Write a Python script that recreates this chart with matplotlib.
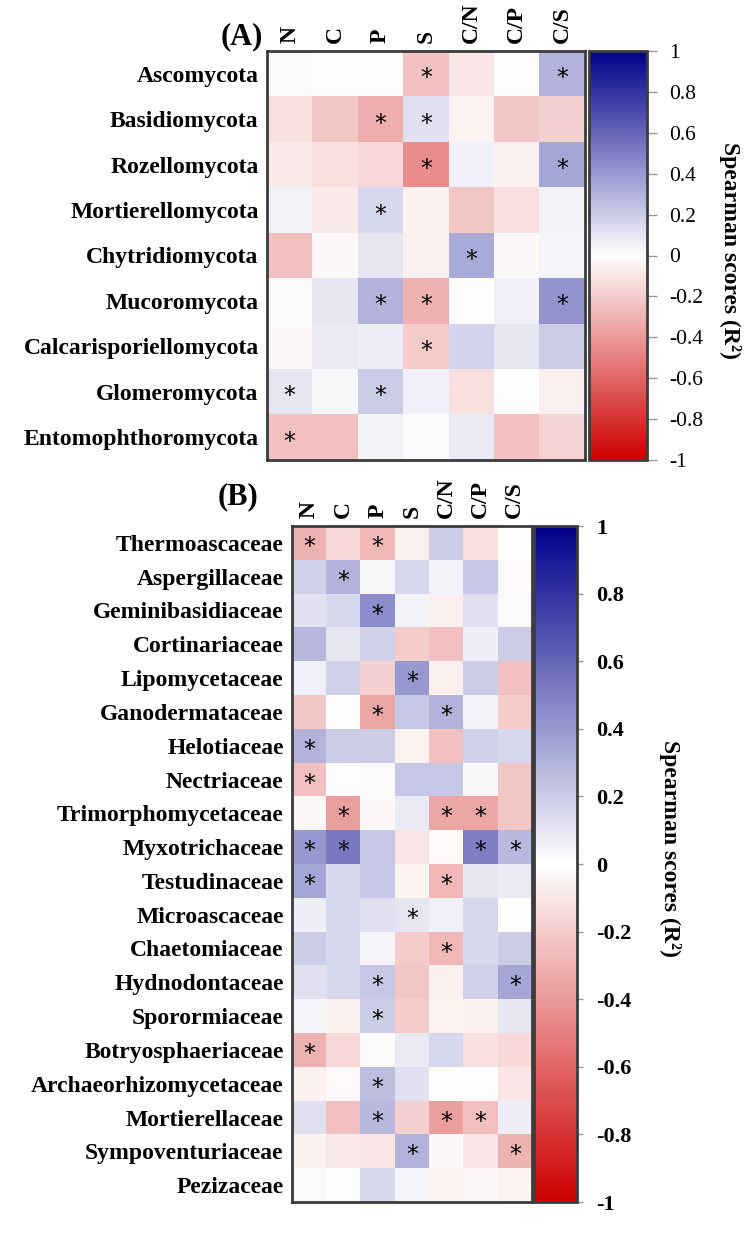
import numpy as np
import matplotlib
matplotlib.use('Agg')
import matplotlib.pyplot as plt
from matplotlib.colors import LinearSegmentedColormap

plt.rcParams['font.family'] = ['Liberation Serif', 'DejaVu Serif']

# soil properties (columns)
props = ['N', 'C', 'P', 'S', 'C/N', 'C/P', 'C/S']

# (A) phyla
phyla = ['Ascomycota', 'Basidiomycota', 'Rozellomycota', 'Mortierellomycota',
         'Chytridiomycota', 'Mucoromycota', 'Calcarisporiellomycota',
         'Glomeromycota', 'Entomophthoromycota']
r_phyla = [
    [0.02, 0.00, 0.00, -0.25, -0.10, 0.00, 0.30],
    [-0.12, -0.22, -0.32, 0.12, -0.05, -0.22, -0.18],
    [-0.08, -0.12, -0.15, -0.45, 0.06, -0.06, 0.35],
    [0.05, -0.08, 0.15, -0.06, -0.22, -0.12, 0.05],
    [-0.25, -0.03, 0.10, -0.06, 0.33, -0.03, 0.04],
    [0.02, 0.10, 0.30, -0.30, 0.00, 0.06, 0.42],
    [-0.03, 0.08, 0.07, -0.20, 0.17, 0.10, 0.20],
    [0.10, 0.03, 0.20, 0.06, -0.12, 0.00, -0.07],
    [-0.25, -0.25, 0.05, 0.02, 0.08, -0.25, -0.17],
]
sig_phyla = [
    [0, 0, 0, 1, 0, 0, 1],
    [0, 0, 1, 1, 0, 0, 0],
    [0, 0, 0, 1, 0, 0, 1],
    [0, 0, 1, 0, 0, 0, 0],
    [0, 0, 0, 0, 1, 0, 0],
    [0, 0, 1, 1, 0, 0, 1],
    [0, 0, 0, 1, 0, 0, 0],
    [1, 0, 1, 0, 0, 0, 0],
    [1, 0, 0, 0, 0, 0, 0],
]

# (B) families
families = ['Thermoascaceae', 'Aspergillaceae', 'Geminibasidiaceae', 'Cortinariaceae',
            'Lipomycetaceae', 'Ganodermataceae', 'Helotiaceae', 'Nectriaceae',
            'Trimorphomycetaceae', 'Myxotrichaceae', 'Testudinaceae', 'Microascaceae',
            'Chaetomiaceae', 'Hydnodontaceae', 'Sporormiaceae', 'Botryosphaeriaceae',
            'Archaeorhizomycetaceae', 'Mortierellaceae', 'Sympoventuriaceae', 'Pezizaceae']
r_families = [
    [-0.30, -0.15, -0.28, -0.07, 0.20, -0.12, 0.00],
    [0.18, 0.30, 0.03, 0.15, 0.05, 0.22, -0.02],
    [0.12, 0.15, 0.45, 0.05, -0.07, 0.12, 0.02],
    [0.28, 0.10, 0.18, -0.20, -0.25, 0.07, 0.20],
    [0.06, 0.18, -0.18, 0.40, -0.07, 0.20, -0.25],
    [-0.22, 0.00, -0.35, 0.22, 0.30, 0.05, -0.20],
    [0.30, 0.20, 0.20, -0.05, -0.25, 0.18, 0.15],
    [-0.25, 0.00, 0.02, 0.22, 0.22, 0.03, -0.22],
    [-0.03, -0.38, -0.03, 0.08, -0.35, -0.35, -0.22],
    [0.40, 0.52, 0.22, -0.10, -0.02, 0.50, 0.28],
    [0.35, 0.15, 0.22, -0.04, -0.28, 0.10, 0.08],
    [0.07, 0.15, 0.12, 0.10, 0.06, 0.15, 0.00],
    [0.20, 0.15, 0.04, -0.20, -0.28, 0.15, 0.20],
    [0.12, 0.15, 0.22, -0.22, -0.06, 0.18, 0.35],
    [0.04, -0.06, 0.20, -0.20, -0.05, -0.06, 0.10],
    [-0.30, -0.15, 0.02, 0.08, 0.15, -0.12, -0.15],
    [-0.06, -0.02, 0.25, 0.12, 0.00, -0.01, -0.10],
    [0.12, -0.25, 0.28, -0.18, -0.38, -0.25, 0.07],
    [-0.06, -0.08, -0.10, 0.30, -0.03, -0.10, -0.30],
    [0.02, 0.00, 0.15, 0.04, -0.04, -0.03, -0.05],
]
sig_families = [
    [1, 0, 1, 0, 0, 0, 0],
    [0, 1, 0, 0, 0, 0, 0],
    [0, 0, 1, 0, 0, 0, 0],
    [0, 0, 0, 0, 0, 0, 0],
    [0, 0, 0, 1, 0, 0, 0],
    [0, 0, 1, 0, 1, 0, 0],
    [1, 0, 0, 0, 0, 0, 0],
    [1, 0, 0, 0, 0, 0, 0],
    [0, 1, 0, 0, 1, 1, 0],
    [1, 1, 0, 0, 0, 1, 1],
    [1, 0, 0, 0, 1, 0, 0],
    [0, 0, 0, 1, 0, 0, 0],
    [0, 0, 0, 0, 1, 0, 0],
    [0, 0, 1, 0, 0, 0, 1],
    [0, 0, 1, 0, 0, 0, 0],
    [1, 0, 0, 0, 0, 0, 0],
    [0, 0, 1, 0, 0, 0, 0],
    [0, 0, 1, 0, 1, 1, 0],
    [0, 0, 0, 1, 0, 0, 1],
    [0, 0, 0, 0, 0, 0, 0],
]

cbar_ticks = [1, 0.8, 0.6, 0.4, 0.2, 0, -0.2, -0.4, -0.6, -0.8, -1]
cbar_labels = ['1', '0.8', '0.6', '0.4', '0.2', '0', '-0.2', '-0.4', '-0.6', '-0.8', '-1']

cmap = LinearSegmentedColormap.from_list('rwb', ['#CD0000', '#FFFFFF', '#00008B'])
edge = '#3c3c3c'

W, H = 750, 1233
fig = plt.figure(figsize=(W / 100, H / 100), dpi=100)


def px_axes(x0, y0, x1, y1):
    return fig.add_axes([x0 / W, 1 - y1 / H, (x1 - x0) / W, (y1 - y0) / H])


def heat_panel(box, cbox, rows, vals, sig, lab_size, tick_bold, tick_len, star_dy):
    ax = px_axes(*box)
    data = np.array(vals)
    im = ax.imshow(data, cmap=cmap, vmin=-1, vmax=1, aspect='auto',
                   extent=(-0.5, len(props) - 0.5, len(rows) - 0.5, -0.5))
    for i in range(len(rows)):
        for j in range(len(props)):
            if sig[i][j]:
                ax.text(j, i + star_dy, '*', ha='center', va='center',
                        fontsize=17, family='DejaVu Sans', color='black')
    ax.set_xticks(range(len(props)))
    ax.set_xticklabels(props, rotation=90, fontsize=lab_size, fontweight='bold')
    ax.xaxis.tick_top()
    ax.set_yticks(range(len(rows)))
    ax.set_yticklabels(rows, fontsize=lab_size, fontweight='bold')
    ax.tick_params(length=0, pad=6)
    for s in ax.spines.values():
        s.set_color(edge)
        s.set_linewidth(2)

    cax = px_axes(*cbox)
    cb = fig.colorbar(im, cax=cax)
    cb.set_ticks(cbar_ticks)
    cb.set_ticklabels(cbar_labels)
    cax.tick_params(length=tick_len, width=1, color='#999999', pad=9,
                    labelsize=16 if tick_bold else 15.5)
    for t in cax.get_yticklabels():
        t.set_fontweight('bold' if tick_bold else 'normal')
    cb.outline.set_edgecolor(edge)
    cb.outline.set_linewidth(2)
    return ax


heat_panel((267, 51, 585, 460), (589, 51, 647, 460), phyla, r_phyla, sig_phyla,
           17, False, 7, 0.1)
heat_panel((292, 526, 532, 1202), (534, 526, 577, 1202), families, r_families,
           sig_families, 17, True, 4.5, 0.12)

fig.text(263 / W, 1 - 37 / H, '(A)', ha='right', va='center', fontsize=22, fontweight='bold')
fig.text(258 / W, 1 - 497 / H, '(B)', ha='right', va='center', fontsize=22, fontweight='bold')
fig.text(730 / W, 1 - 250 / H, 'Spearman scores (R²)', rotation=270, ha='center',
         va='center', fontsize=17, fontweight='bold')
fig.text(670 / W, 1 - 848 / H, 'Spearman scores (R²)', rotation=270, ha='center',
         va='center', fontsize=17, fontweight='bold')

fig.savefig('out.png', dpi=100)
